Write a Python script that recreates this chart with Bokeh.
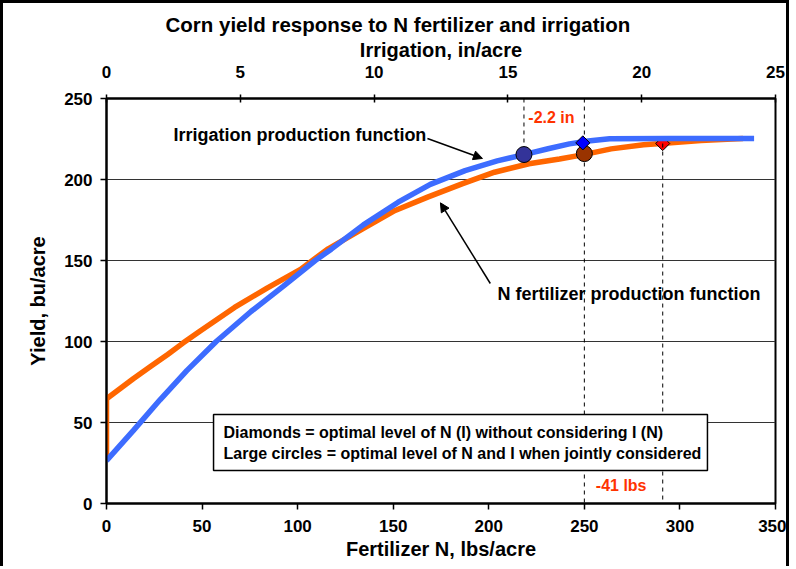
from bokeh.plotting import figure
from bokeh.models import Range1d, LinearAxis, Label, Arrow, NormalHead, BoxAnnotation, FixedTicker
from bokeh.embed import file_html
from bokeh.resources import INLINE

# ---- data ----
irr_in = [0, 1.0, 2.0, 3.0, 4.1, 5.4, 6.6, 7.8, 8.4, 9.6, 10.9, 12.1, 13.4, 14.6, 15.6, 16.5, 17.3, 18.0, 18.8, 21.0, 24.2]
irr_yield = [26.5, 45, 64, 82, 100, 118.5, 134, 150, 157, 172, 186, 197, 205.5, 211.5, 215.4, 219, 222, 223.8, 225.2, 225.3, 225.3]

n_lbs = [0, 0, 0.4, 14, 23, 32, 40, 49, 67, 84, 101.5, 110, 116, 134, 151, 168, 186, 203, 221, 237, 249, 264, 281, 292, 311, 333]
n_yield = [28, 64.6, 65, 77, 84.5, 92, 99, 106.5, 121, 133, 144.5, 152, 157.2, 169.5, 180.9, 189.1, 197.3, 204.5, 209.7, 212.7, 215.2, 218.9, 221.4, 222.4, 224, 225.3]

# optimal points
joint_irr, joint_irr_yield = 15.6, 215.4      # large circle on irrigation curve
joint_n, joint_n_yield = 250, 216.0           # large circle on N curve
single_irr, single_irr_yield = 17.8, 222.6    # diamond on irrigation curve
single_n, single_n_yield = 291, 222.2         # diamond on N curve

n_ticks = [0, 50, 100, 150, 200, 250, 300, 350]
irr_ticks = [0, 5, 10, 15, 20, 25]
y_ticks = [0, 50, 100, 150, 200, 250]

FONT = "Liberation Sans"

p = figure(width=789, height=566, output_backend="svg", toolbar_location=None,
           x_range=Range1d(0, 350), y_range=Range1d(0, 250),
           min_border_left=103, min_border_right=17, min_border_top=95, min_border_bottom=66,
           background_fill_color="white", border_fill_color="white")
p.styles = {"border-left": "3px solid black", "border-top": "3px solid black",
            "border-right": "3px solid black"}
p.extra_x_ranges = {"irr": Range1d(0, 25)}

p.title.text = "Corn yield response to N fertilizer and irrigation"
p.title.text_font = FONT
p.title.text_font_size = "20.5px"
p.title.text_font_style = "bold"
p.title.text_color = "black"
p.title.align = "left"
p.title.offset = 59
p.title.standoff = 0

bottom = p.below[0]
left = p.left[0]
top = LinearAxis(x_range_name="irr", axis_label="Irrigation, in/acre", ticker=FixedTicker(ticks=irr_ticks))
p.add_layout(top, "above")

for ax in [bottom, left, top]:
    ax.axis_line_width = 2
    ax.axis_line_color = "black"
    ax.major_tick_line_color = "black"
    ax.major_tick_line_width = 1.5
    ax.minor_tick_line_color = None
    ax.major_tick_out = 6
    ax.major_tick_in = 0
    ax.major_label_text_font = FONT
    ax.major_label_text_font_size = "17px"
    ax.major_label_text_font_style = "bold"
    ax.major_label_text_color = "black"
    ax.axis_label_text_font = FONT
    ax.axis_label_text_font_size = "20px"
    ax.axis_label_text_font_style = "bold"
    ax.axis_label_text_color = "black"

bottom.ticker = FixedTicker(ticks=n_ticks)
bottom.axis_label = "Fertilizer N, lbs/acre"
bottom.major_label_standoff = 10
bottom.axis_label_standoff = 3
left.ticker = FixedTicker(ticks=y_ticks)
left.axis_label = "Yield, bu/acre"
left.major_label_standoff = 8
left.axis_label_standoff = 12
top.major_tick_in = 4
top.major_tick_out = 4
top.major_label_standoff = 17
top.axis_label_standoff = 2

p.xgrid.visible = False
p.ygrid.ticker = FixedTicker(ticks=[50, 100, 150, 200])
p.ygrid.grid_line_color = "#333333"
p.ygrid.grid_line_width = 1
p.outline_line_color = "black"
p.outline_line_width = 2

# curves
p.line(n_lbs, n_yield, line_color="#FF6600", line_width=5.5)
p.scatter([single_n], [single_n_yield], marker="square", angle=0.785398, size=10,
          fill_color="#FF0000", line_color="black", line_width=1)
p.line(irr_in, irr_yield, line_color="#3D6CFF", line_width=5.5, x_range_name="irr")

# dashed guide lines
p.segment([joint_irr], [250], [joint_irr], [joint_irr_yield], line_color="black", line_width=1,
          line_dash="4 4", x_range_name="irr")
p.segment([joint_n, single_n], [250, single_n_yield], [joint_n, single_n], [0, 0],
          line_color="black", line_width=1, line_dash="4 4")

# markers
p.scatter([joint_n], [joint_n_yield], marker="circle", size=16, fill_color="#993300",
          line_color="black", line_width=1)
p.scatter([joint_irr], [joint_irr_yield], marker="circle", size=16, fill_color="#333399",
          line_color="black", line_width=1, x_range_name="irr")
p.scatter([single_irr], [single_irr_yield], marker="square", angle=0.785398, size=10,
          fill_color="#0000FF", line_color="black", line_width=1, x_range_name="irr")

# annotations
p.add_layout(Arrow(end=NormalHead(size=9, fill_color="black", line_color="black"),
                   x_start=167.9, y_start=225.3, x_end=196.7, y_end=213.0,
                   line_color="black", line_width=1.5))
p.add_layout(Arrow(end=NormalHead(size=9, fill_color="black", line_color="black"),
                   x_start=200.8, y_start=135.8, x_end=174.7, y_end=185.6,
                   line_color="black", line_width=1.5))

def lab(x, y, t, size, color="black"):
    p.add_layout(Label(x=x, y=y, text=t, text_font=FONT, text_font_size=size,
                       text_font_style="bold", text_color=color,
                       text_align="left", text_baseline="middle"))

lab(35.0, 227.2, "Irrigation production function", "18px")
lab(204.5, 129.6, "N fertilizer production function", "18px")
lab(220.7, 238.5, "-2.2 in", "16px", "#FF3300")
lab(256.0, 11.1, "-41 lbs", "16px", "#FF3300")

p.add_layout(BoxAnnotation(left=56.0, right=314.4, bottom=20.4, top=55.0,
                           fill_color="white", fill_alpha=1.0, line_color="black",
                           line_width=1.5, line_alpha=1.0))
lab(61.2, 44.0, "Diamonds = optimal level of N (I) without considering  I (N)", "16px")
lab(61.2, 30.7, "Large circles = optimal level of N and I when jointly considered", "16px")

open("out.html", "w").write(file_html(p, INLINE))
